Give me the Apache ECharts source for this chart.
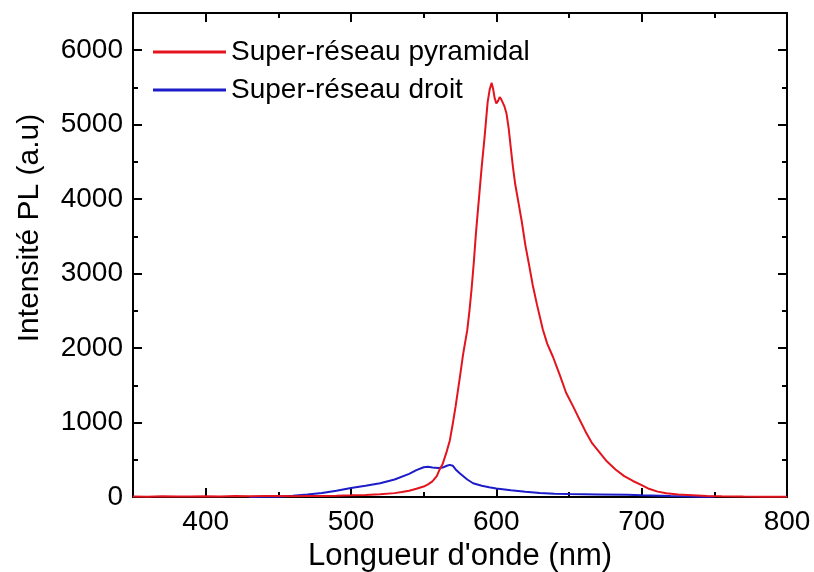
<!DOCTYPE html>
<html>
<head>
<meta charset="utf-8">
<script src="https://cdn.jsdelivr.net/npm/echarts@6/dist/echarts.min.js"></script>
<style>
  html, body { margin: 0; padding: 0; background: #fff; }
  #main { width: 814px; height: 572px; }
</style>
</head>
<body>
<div id="main"></div>
<script>
// spectres PL
var redX = [350, 360, 370, 380, 390, 400, 410, 420, 430, 440, 450, 460, 470, 480, 490, 500, 510, 520, 530, 535,
  540, 545, 550, 553, 556, 559, 561, 563, 566, 568, 570, 572, 575, 577, 578, 580, 581.5, 583, 584.5, 586,
  588, 590, 592, 594, 595.5, 596.8, 597.8, 598.8, 600, 601.2, 602.3, 603.4, 604.4, 605.5, 607, 608.5, 610, 611.5, 613, 615,
  617.5, 620, 622.5, 625, 628, 632, 635, 639, 644, 648, 653, 657, 662, 666, 671, 676, 682, 688, 694, 700,
  705, 711, 717, 725, 735, 745, 755, 770, 785, 800];
var redY = [8, 5, 10, 6, 8, 10, 7, 12, 9, 12, 13, 11, 15, 15, 18, 22, 27, 36, 52, 66,
  85, 110, 140, 170, 210, 280, 370, 440, 620, 760, 980, 1220, 1620, 1900, 2017, 2241, 2500, 2800, 3150, 3550,
  4000, 4450, 4850, 5300, 5480, 5561, 5480, 5360, 5284, 5320, 5370, 5340, 5365, 5250, 5150, 4950, 4680, 4420, 4200, 3980,
  3700, 3380, 3120, 2850, 2580, 2250, 2060, 1880, 1620, 1400, 1210, 1050, 855, 720, 600, 480, 370, 280, 215, 160,
  110, 72, 50, 35, 25, 15, 10, 6, 5, 4];

var blueX = [430, 440, 450, 460, 470, 480, 490, 500, 510, 520, 530, 540, 545, 550, 553, 556, 560, 563, 566, 568,
  570, 572, 575, 580, 584, 590, 595, 600, 610, 620, 630, 640, 650, 670, 690, 700, 720, 740, 750];
var blueY = [0, 2, 5, 18, 35, 55, 85, 120, 150, 185, 235, 310, 360, 400, 405, 395, 390, 395, 420, 432,
  420, 370, 315, 235, 185, 150, 130, 115, 90, 70, 55, 45, 40, 35, 30, 22, 12, 5, 2];

var xTicks = [400, 500, 600, 700, 800];
var xMinorTicks = [450, 550, 650, 750];
var yTicks = [0, 1000, 2000, 3000, 4000, 5000, 6000];
var yMinorTicks = [500, 1500, 2500, 3500, 4500, 5500];

var FONT = "'Liberation Sans', Arial, sans-serif";

function pairs(xs, ys) {
  return xs.map(function (x, i) { return [x, ys[i]]; });
}

// un axe par côté et par type de graduation (graduations vers l'intérieur)
function makeAxis(range, position, ticks, len, labels, line) {
  return {
    type: 'value',
    position: position,
    min: range[0],
    max: range[1],
    axisLine: { show: line, onZero: false, lineStyle: { color: '#000', width: 2 } },
    axisTick: { show: true, inside: true, length: len, customValues: ticks,
      lineStyle: { color: '#000', width: 2 } },
    axisLabel: labels ? { show: true, customValues: ticks, color: '#000',
      fontSize: 28, fontFamily: FONT, formatter: function (v) { return String(v); } } : { show: false },
    splitLine: { show: false }
  };
}

var myChart = echarts.init(document.getElementById('main'));

var xMain = makeAxis([350, 800], 'bottom', xTicks, 9, true, true);
xMain.axisLabel.margin = 11;
xMain.name = "Longueur d'onde (nm)";
xMain.nameLocation = 'middle';
xMain.nameGap = 43;
xMain.nameTextStyle = { color: '#000', fontSize: 31, fontFamily: FONT };

var yMain = makeAxis([0, 6500], 'left', yTicks, 9, true, true);
yMain.axisLabel.margin = 10;
yMain.name = 'Intensité PL (a.u)';
yMain.nameLocation = 'middle';
yMain.nameGap = 88;
yMain.nameTextStyle = { color: '#000', fontSize: 30, fontFamily: FONT, padding: [0, 0, 0, 54] };

var option = {
  animation: false,
  backgroundColor: '#fff',
  grid: { left: 133, right: 27, top: 13, bottom: 75, outerBoundsMode: 'none', containLabel: false },
  legend: {
    orient: 'vertical',
    left: 148,
    top: 33,
    itemWidth: 73,
    itemHeight: 3,
    itemGap: 10,
    data: [
      { name: 'Super-réseau pyramidal', icon: 'rect' },
      { name: 'Super-réseau droit', icon: 'rect' }
    ],
    textStyle: { color: '#000', fontSize: 28, fontFamily: FONT, lineHeight: 28 }
  },
  xAxis: [
    xMain,
    makeAxis([350, 800], 'bottom', xMinorTicks, 5, false, false),
    makeAxis([350, 800], 'top', xTicks, 9, false, true),
    makeAxis([350, 800], 'top', xMinorTicks, 5, false, false)
  ],
  yAxis: [
    yMain,
    makeAxis([0, 6500], 'left', yMinorTicks, 5, false, false),
    makeAxis([0, 6500], 'right', yTicks, 9, false, true),
    makeAxis([0, 6500], 'right', yMinorTicks, 5, false, false)
  ],
  series: [
    {
      name: 'Super-réseau droit',
      type: 'line',
      data: pairs(blueX, blueY),
      showSymbol: false,
      symbol: 'none',
      lineStyle: { color: '#1c1cc8', width: 2 },
      itemStyle: { color: '#1c1cc8' }
    },
    {
      name: 'Super-réseau pyramidal',
      type: 'line',
      data: pairs(redX, redY),
      showSymbol: false,
      symbol: 'none',
      lineStyle: { color: '#e3141e', width: 2 },
      itemStyle: { color: '#e3141e' }
    }
  ]
};

myChart.setOption(option);
</script>
</body>
</html>
